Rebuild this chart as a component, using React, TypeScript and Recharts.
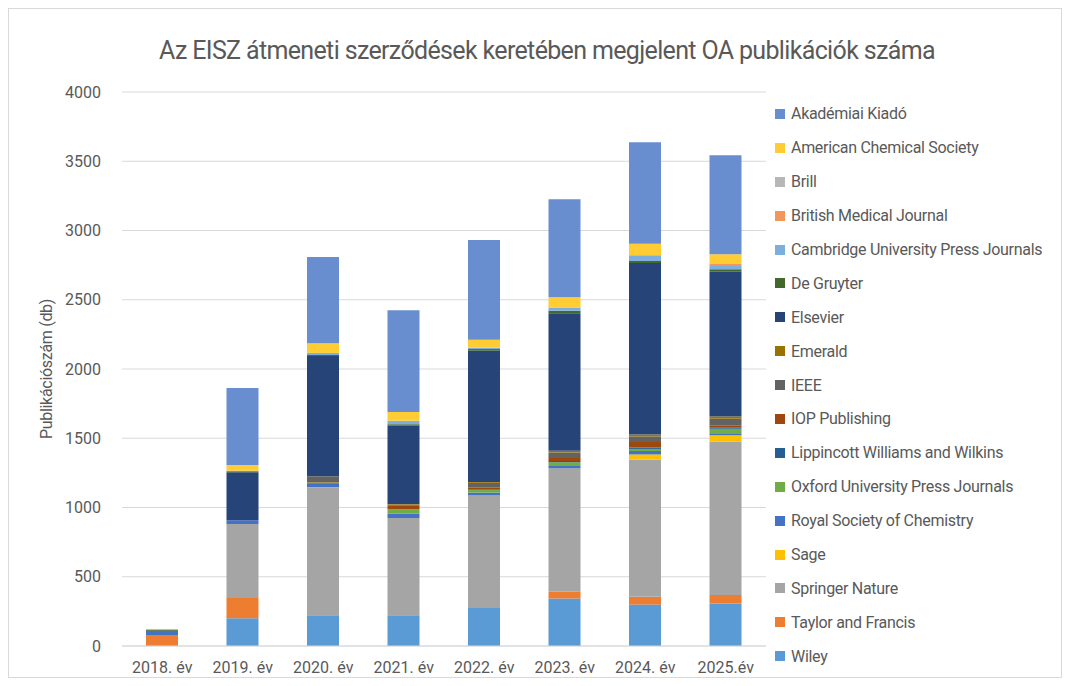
import React from 'react';
import { BarChart, Bar, XAxis, YAxis, CartesianGrid, Label } from 'recharts';

const years = ['2018. év', '2019. év', '2020. év', '2021. év', '2022. év', '2023. év', '2024. év', '2025.év'];

// values per year, 2018 -> 2025
const wiley = [0, 200, 222, 222, 275, 343, 299, 307];
const taylorFrancis = [75, 147, 0, 0, 0, 48, 56, 61];
const springerNature = [0, 533, 925, 703, 815, 892, 990, 1109];
const sage = [0, 0, 0, 0, 0, 0, 38, 45];
const royalSociety = [35, 28, 29, 29, 17, 17, 25, 8];
const oxfordUP = [0, 0, 5, 34, 19, 27, 15, 38];
const lippincott = [0, 0, 0, 0, 5, 8, 10, 8];
const iopPublishing = [0, 0, 10, 29, 12, 22, 40, 15];
const ieee = [0, 0, 30, 5, 35, 40, 40, 50];
const emerald = [0, 0, 3, 3, 6, 12, 14, 16];
const elsevier = [0, 347, 870, 566, 948, 993, 1238, 1045];
const deGruyter = [8, 6, 7, 10, 12, 18, 15, 18];
const cambridgeUP = [0, 4, 15, 25, 10, 24, 38, 23];
const bmj = [0, 0, 0, 0, 0, 0, 5, 15];
const brill = [5, 0, 0, 0, 0, 0, 0, 0];
const acs = [0, 42, 70, 63, 58, 74, 82, 71];
const akademiai = [0, 555, 622, 735, 719, 707, 733, 715];

const yTicks = [0, 500, 1000, 1500, 2000, 2500, 3000, 3500, 4000];

// bottom of stack first
const series = [
  { key: 'wiley', name: 'Wiley', values: wiley, color: '#5b9bd5' },
  { key: 'tf', name: 'Taylor and Francis', values: taylorFrancis, color: '#ed7d31' },
  { key: 'springer', name: 'Springer Nature', values: springerNature, color: '#a5a5a5' },
  { key: 'sage', name: 'Sage', values: sage, color: '#ffc000' },
  { key: 'rsc', name: 'Royal Society of Chemistry', values: royalSociety, color: '#4472c4' },
  { key: 'oup', name: 'Oxford University Press Journals', values: oxfordUP, color: '#70ad47' },
  { key: 'lww', name: 'Lippincott Williams and Wilkins', values: lippincott, color: '#255e91' },
  { key: 'iop', name: 'IOP Publishing', values: iopPublishing, color: '#9e480e' },
  { key: 'ieee', name: 'IEEE', values: ieee, color: '#636363' },
  { key: 'emerald', name: 'Emerald', values: emerald, color: '#997300' },
  { key: 'elsevier', name: 'Elsevier', values: elsevier, color: '#264478' },
  { key: 'degruyter', name: 'De Gruyter', values: deGruyter, color: '#43682b' },
  { key: 'cup', name: 'Cambridge University Press Journals', values: cambridgeUP, color: '#7cafdd' },
  { key: 'bmj', name: 'British Medical Journal', values: bmj, color: '#f1975a' },
  { key: 'brill', name: 'Brill', values: brill, color: '#b7b7b7' },
  { key: 'acs', name: 'American Chemical Society', values: acs, color: '#ffcd33' },
  { key: 'akademiai', name: 'Akadémiai Kiadó', values: akademiai, color: '#698ed0' },
];

const data = years.map((year, i) => {
  const row: Record<string, string | number> = { year };
  series.forEach((s) => {
    row[s.key] = s.values[i];
  });
  return row;
});

const FONT = 'Roboto, sans-serif';
const TEXT = '#595959';

export default function App() {
  return (
    <div
      style={{
        position: 'relative',
        width: 1052,
        height: 668,
        border: '1px solid #d9d9d9',
        background: '#fff',
        fontFamily: FONT,
        color: TEXT,
      }}
    >
      <div
        style={{
          position: 'absolute',
          left: 0,
          width: 1076,
          top: 27,
          textAlign: 'center',
          fontSize: 25,
          letterSpacing: -0.65,
          lineHeight: '30px',
        }}
      >
        Az EISZ átmeneti szerződések keretében megjelent OA publikációk száma
      </div>

      <BarChart
        width={1052}
        height={668}
        data={data}
        margin={{ top: 83, right: 295, bottom: 0, left: 0 }}
        style={{ position: 'absolute', left: 0, top: 0 }}
      >
        <CartesianGrid vertical={false} stroke="#d9d9d9" />
        <XAxis
          dataKey="year"
          height={31}
          axisLine={{ stroke: '#d9d9d9' }}
          tickLine={false}
          tickMargin={10}
          tick={{ fontSize: 16, fill: TEXT, fontFamily: FONT }}
        />
        <YAxis
          width={113}
          domain={[0, 4000]}
          ticks={yTicks}
          axisLine={false}
          tickLine={false}
          tickMargin={15}
          tick={{ fontSize: 16, fill: TEXT, fontFamily: FONT }}
        >
          <Label
            value="Publikációszám (db)"
            angle={-90}
            position="insideLeft"
            offset={37}
            style={{ fontSize: 16, fill: TEXT, fontFamily: FONT, textAnchor: 'middle', letterSpacing: -0.3 }}
          />
        </YAxis>
        {series.map((s) => (
          <Bar
            key={s.key}
            dataKey={s.key}
            name={s.name}
            stackId="a"
            fill={s.color}
            barSize={32}
            isAnimationActive={false}
          />
        ))}
      </BarChart>

      <div style={{ position: 'absolute', left: 766, top: 88 }}>
        {[...series].reverse().map((s) => (
          <div
            key={s.key}
            style={{ display: 'flex', alignItems: 'center', height: 33.9, fontSize: 16, letterSpacing: -0.3 }}
          >
            <span
              style={{ display: 'inline-block', width: 10, height: 10, background: s.color, marginRight: 6 }}
            />
            {s.name}
          </div>
        ))}
      </div>
    </div>
  );
}
